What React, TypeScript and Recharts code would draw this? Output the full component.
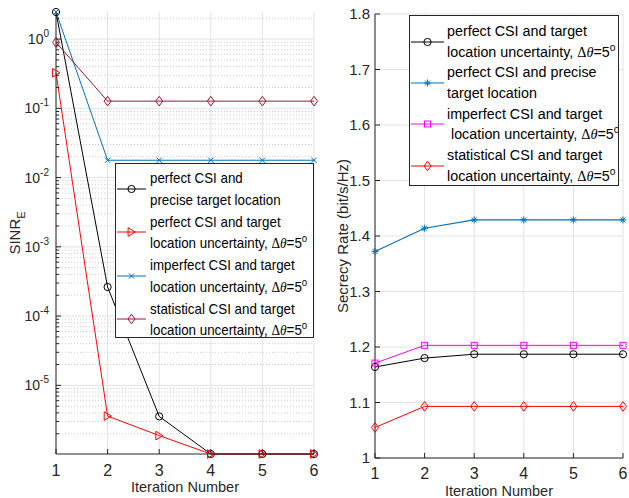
import React from "react";
import { LineChart, Line, XAxis, YAxis, CartesianGrid, Legend, Label } from "recharts";

const iterations = [1, 2, 3, 4, 5, 6];

// SINR at the eavesdropper (log axis)
const sinrPerfectPrecise = [2.46, 2.63e-4, 3.56e-6, 1.02e-6, 1.02e-6, 1.02e-6];
const sinrPerfectUncertain = [0.326, 3.6e-6, 1.88e-6, 1.02e-6, 1.02e-6, 1.02e-6];
const sinrImperfect = [2.46, 0.0178, 0.0178, 0.0178, 0.0178, 0.0178];
const sinrStatistical = [0.896, 0.127, 0.127, 0.127, 0.127, 0.127];

// secrecy rate, bit/s/Hz
const rateUncertain = [1.164, 1.18, 1.187, 1.187, 1.187, 1.187];
const ratePrecise = [1.372, 1.414, 1.429, 1.429, 1.429, 1.429];
const rateImperfect = [1.171, 1.203, 1.203, 1.203, 1.203, 1.203];
const rateStatistical = [1.055, 1.093, 1.093, 1.093, 1.093, 1.093];

const sinrDomain = [1.02e-6, 2.46];
const sinrDecades = [1e-5, 1e-4, 1e-3, 1e-2, 1e-1, 1];
const rateDomain = [1, 1.8];
const rateTicks = [1, 1.1, 1.2, 1.3, 1.4, 1.5, 1.6, 1.7, 1.8];

// 2..9 x 10^e minor ticks of the log axis
const sinrMinor: number[] = [];
for (let e = -6; e <= 0; e++) {
  for (let k = 2; k <= 9; k++) {
    const v = k * Math.pow(10, e);
    if (v > sinrDomain[0] && v < sinrDomain[1]) sinrMinor.push(v);
  }
}
const sinrTicks = [...sinrMinor, ...sinrDecades].sort((a, b) => a - b);

const sinrRows = iterations.map((it, i) => ({
  it,
  pp: sinrPerfectPrecise[i],
  pu: sinrPerfectUncertain[i],
  im: sinrImperfect[i],
  st: sinrStatistical[i],
}));

const rateRows = iterations.map((it, i) => ({
  it,
  pu: rateUncertain[i],
  pp: ratePrecise[i],
  im: rateImperfect[i],
  st: rateStatistical[i],
}));

const AXIS = "#262626";
const GRID = "#e3e3e3";
const GRID_MINOR = "#cfcfcf";
const FONT = 'Arial, "Liberation Sans", Helvetica, sans-serif';
const SERIF = '"Liberation Serif", "Times New Roman", serif';

const BLACK = "#000000";
const RED = "#ff0000";
const BLUE = "#0072bd";
const WINE = "#a2142f";
const MAGENTA = "#ff00ff";

const sinrLegend = [
  { lines: ["perfect CSI and", "precise target location"], color: BLACK, shape: "circle" },
  { lines: ["perfect CSI and target", "location uncertainty, {d}"], color: RED, shape: "triangle" },
  { lines: ["imperfect CSI and target", "location uncertainty, {d}"], color: BLUE, shape: "cross" },
  { lines: ["statistical CSI and target", "location uncertainty, {d}"], color: WINE, shape: "diamond" },
];

const rateLegend = [
  { lines: ["perfect CSI and target", "location uncertainty, {d}"], color: BLACK, shape: "circle" },
  { lines: ["perfect CSI and precise", "target location"], color: BLUE, shape: "asterisk" },
  { lines: ["imperfect CSI and target", " location uncertainty, {d}"], color: MAGENTA, shape: "square" },
  { lines: ["statistical CSI and target", "location uncertainty, {d}"], color: RED, shape: "diamond" },
];

function Marker({ shape, cx, cy, color }: any) {
  if (cx == null || cy == null) return <g />;
  const s = { fill: "none", stroke: color, strokeWidth: 1 };
  switch (shape) {
    case "circle":
      return <circle cx={cx} cy={cy} r={3.6} {...s} />;
    case "triangle":
      return <polygon points={`${cx - 3.4},${cy - 4.3} ${cx + 3.8},${cy} ${cx - 3.4},${cy + 4.3}`} {...s} />;
    case "diamond":
      return <polygon points={`${cx},${cy - 4.8} ${cx + 3.5},${cy} ${cx},${cy + 4.8} ${cx - 3.5},${cy}`} {...s} />;
    case "square":
      return <rect x={cx - 3} y={cy - 3} width={6} height={6} {...s} />;
    case "cross":
      return <path d={`M${cx - 2.6},${cy - 2.6}L${cx + 2.6},${cy + 2.6}M${cx - 2.6},${cy + 2.6}L${cx + 2.6},${cy - 2.6}`} {...s} />;
    case "asterisk":
      return (
        <path
          d={`M${cx - 3.5},${cy}L${cx + 3.5},${cy}M${cx},${cy - 3.5}L${cx},${cy + 3.5}M${cx - 2.5},${cy - 2.5}L${cx + 2.5},${cy + 2.5}M${cx - 2.5},${cy + 2.5}L${cx + 2.5},${cy - 2.5}`}
          {...s}
        />
      );
    default:
      return <g />;
  }
}

const dotFn = (shape: string, color: string) => (p: any) =>
  <Marker key={`m-${p.index}`} shape={shape} cx={p.cx} cy={p.cy} color={color} />;

const Delta = () => (
  <span>
    <span style={{ fontFamily: SERIF }}>Δ</span>
    <span style={{ fontFamily: SERIF, fontStyle: "italic" }}>θ</span>=5
    <span style={{ fontSize: "0.72em", position: "relative", top: "-0.55em" }}>o</span>
  </span>
);

function renderLine(t: string) {
  const parts = t.split("{d}");
  return (
    <>
      {parts[0]}
      {parts.length > 1 && <Delta />}
      {parts[1]}
    </>
  );
}

// legend text is a little narrow, so squeeze it horizontally
function LegendBox({ items, lh, padTop, textLeft, sampleW, fontSize, squeeze }: any) {
  return (
    <div
      style={{
        boxSizing: "border-box",
        width: "100%",
        height: "100%",
        border: `1px solid ${AXIS}`,
        background: "#fff",
        fontFamily: FONT,
        fontSize,
        color: "#000",
        paddingTop: padTop,
        textAlign: "left",
        overflow: "hidden",
      }}
    >
      {items.map((it: any, i: number) => (
        <div key={i} style={{ position: "relative", height: lh * 2 }}>
          <svg width={sampleW} height={12} style={{ position: "absolute", left: 1, top: lh - 6 }}>
            <line x1={0} x2={sampleW} y1={6} y2={6} stroke={it.color} strokeWidth={1} />
            <Marker shape={it.shape} cx={sampleW / 2} cy={6} color={it.color} />
          </svg>
          {it.lines.map((t: string, j: number) => (
            <div key={j} style={{ marginLeft: textLeft, height: lh, lineHeight: `${lh}px`, whiteSpace: "pre" }}>
              <span style={{ display: "inline-block", transform: `scaleX(${squeeze})`, transformOrigin: "0 50%" }}>
                {renderLine(t)}
              </span>
            </div>
          ))}
        </div>
      ))}
    </div>
  );
}

// log axis ticks: labels 10^k on decades, short marks in between
function SinrTick({ x, y, payload }: any) {
  const v = payload.value;
  const major = sinrDecades.includes(v);
  const exp = Math.round(Math.log10(v));
  return (
    <g>
      <line x1={x} x2={x + (major ? 5 : 3)} y1={y} y2={y} stroke={AXIS} />
      {major && (
        <text x={x - 7} y={y} dy="0.36em" textAnchor="end" fill={AXIS} fontFamily={FONT} fontSize={14}>
          10
          <tspan dy={-7} fontSize={10}>
            {String(exp)}
          </tspan>
        </text>
      )}
    </g>
  );
}

function SinrTickRight({ x, y, payload }: any) {
  const major = sinrDecades.includes(payload.value);
  return <line x1={x} x2={x - (major ? 5 : 3)} y1={y} y2={y} stroke={AXIS} />;
}

function RateTick({ x, y, payload }: any) {
  return (
    <g>
      <line x1={x} x2={x + 5} y1={y} y2={y} stroke={AXIS} />
      <text x={x - 5} y={y} dy="0.36em" textAnchor="end" fill={AXIS} fontFamily={FONT} fontSize={15}>
        {String(payload.value)}
      </text>
    </g>
  );
}

function RateTickRight({ x, y }: any) {
  return <line x1={x} x2={x - 5} y1={y} y2={y} stroke={AXIS} />;
}

const bottomTick = (gap: number) => ({ x, y, payload }: any) => (
  <g>
    <line x1={x} x2={x} y1={y} y2={y - 5} stroke={AXIS} />
    <text x={x} y={y + gap} dy="0.71em" textAnchor="middle" fill={AXIS} fontFamily={FONT} fontSize={16}>
      {payload.value}
    </text>
  </g>
);

const TopTick = ({ x, y }: any) => <line x1={x} x2={x} y1={y} y2={y + 5} stroke={AXIS} />;

const xTitle = (drop: number) => (props: any) => {
  const vb = props.viewBox || {};
  return (
    <text x={vb.x + vb.width / 2} y={vb.y + drop} dy="0.36em" textAnchor="middle" fill={AXIS} fontFamily={FONT} fontSize={14.5}>
      Iteration Number
    </text>
  );
};

const SinrTitle = (props: any) => {
  const vb = props.viewBox || {};
  const cx = vb.x + 15;
  const cy = vb.y + vb.height / 2;
  return (
    <text transform={`rotate(-90, ${cx}, ${cy})`} x={cx} y={cy} dy="0.36em" textAnchor="middle" fill={AXIS} fontFamily={FONT} fontSize={15}>
      SINR
      <tspan dy={5} fontSize={11}>
        E
      </tspan>
    </text>
  );
};

const RateTitle = (props: any) => {
  const vb = props.viewBox || {};
  const cx = vb.x + 23;
  const cy = vb.y + vb.height / 2;
  return (
    <text transform={`rotate(-90, ${cx}, ${cy})`} x={cx} y={cy} dy="0.36em" textAnchor="middle" fill={AXIS} fontFamily={FONT} fontSize={15}>
      Secrecy Rate (bit/s/Hz)
    </text>
  );
};

export default function App() {
  return (
    <div style={{ position: "absolute", left: 0, top: 0, width: 629, height: 498, background: "#fff" }}>
      <div style={{ position: "absolute", left: 0, top: 0 }}>
        <LineChart width={320} height={498} data={sinrRows} margin={{ top: 12, right: 6, bottom: 0, left: 0 }}>
          <CartesianGrid stroke={GRID} horizontalValues={sinrDecades} />
          <CartesianGrid stroke={GRID_MINOR} strokeDasharray="1 2" vertical={false} horizontalValues={sinrMinor} />
          <XAxis
            dataKey="it"
            type="number"
            domain={[1, 6]}
            ticks={iterations}
            interval={0}
            height={44}
            tickSize={0}
            tickMargin={0}
            tickLine={false}
            axisLine={{ stroke: AXIS }}
            tick={bottomTick(11)}
          >
            <Label content={xTitle(33)} />
          </XAxis>
          <XAxis
            xAxisId="top"
            orientation="top"
            type="number"
            domain={[1, 6]}
            ticks={iterations}
            interval={0}
            height={0}
            tickSize={0}
            tickMargin={0}
            tickLine={false}
            axisLine={{ stroke: AXIS }}
            tick={TopTick}
            allowDataOverflow
          />
          <YAxis
            type="number"
            scale="log"
            domain={sinrDomain}
            ticks={sinrTicks}
            interval={0}
            width={56}
            tickSize={0}
            tickMargin={0}
            tickLine={false}
            axisLine={{ stroke: AXIS }}
            tick={SinrTick}
          >
            <Label content={SinrTitle} />
          </YAxis>
          <YAxis
            yAxisId="r"
            orientation="right"
            type="number"
            scale="log"
            domain={sinrDomain}
            ticks={sinrTicks}
            interval={0}
            width={0}
            tickSize={0}
            tickMargin={0}
            tickLine={false}
            axisLine={{ stroke: AXIS }}
            tick={SinrTickRight}
            allowDataOverflow
          />
          <Line dataKey="pp" stroke={BLACK} strokeWidth={1} dot={dotFn("circle", BLACK)} activeDot={false} isAnimationActive={false} />
          <Line dataKey="pu" stroke={RED} strokeWidth={1} dot={dotFn("triangle", RED)} activeDot={false} isAnimationActive={false} />
          <Line dataKey="im" stroke={BLUE} strokeWidth={1} dot={dotFn("cross", BLUE)} activeDot={false} isAnimationActive={false} />
          <Line dataKey="st" stroke={WINE} strokeWidth={1} dot={dotFn("diamond", WINE)} activeDot={false} isAnimationActive={false} />
          <Legend
            layout="horizontal"
            verticalAlign="middle"
            align="center"
            wrapperStyle={{ left: 115, top: 163, width: 199, height: 175 }}
            content={() => (
              <LegendBox items={sinrLegend} lh={21.75} padTop={3} textLeft={34} sampleW={29} fontSize={15} squeeze={0.89} />
            )}
          />
        </LineChart>
      </div>

      <div style={{ position: "absolute", left: 320, top: 0 }}>
        <LineChart width={309} height={498} data={rateRows} margin={{ top: 14, right: 6, bottom: 0, left: 0 }}>
          <CartesianGrid stroke={GRID} />
          <XAxis
            dataKey="it"
            type="number"
            domain={[1, 6]}
            ticks={iterations}
            interval={0}
            height={40}
            tickSize={0}
            tickMargin={0}
            tickLine={false}
            axisLine={{ stroke: AXIS }}
            tick={bottomTick(10)}
          >
            <Label content={xTitle(33)} />
          </XAxis>
          <XAxis
            xAxisId="top"
            orientation="top"
            type="number"
            domain={[1, 6]}
            ticks={iterations}
            interval={0}
            height={0}
            tickSize={0}
            tickMargin={0}
            tickLine={false}
            axisLine={{ stroke: AXIS }}
            tick={TopTick}
            allowDataOverflow
          />
          <YAxis
            type="number"
            domain={rateDomain}
            ticks={rateTicks}
            interval={0}
            width={55}
            tickSize={0}
            tickMargin={0}
            tickLine={false}
            axisLine={{ stroke: AXIS }}
            tick={RateTick}
          >
            <Label content={RateTitle} />
          </YAxis>
          <YAxis
            yAxisId="r"
            orientation="right"
            type="number"
            domain={rateDomain}
            ticks={rateTicks}
            interval={0}
            width={0}
            tickSize={0}
            tickMargin={0}
            tickLine={false}
            axisLine={{ stroke: AXIS }}
            tick={RateTickRight}
            allowDataOverflow
          />
          <Line dataKey="pu" stroke={BLACK} strokeWidth={1} dot={dotFn("circle", BLACK)} activeDot={false} isAnimationActive={false} />
          <Line dataKey="pp" stroke={BLUE} strokeWidth={1.2} dot={dotFn("asterisk", BLUE)} activeDot={false} isAnimationActive={false} />
          <Line dataKey="im" stroke={MAGENTA} strokeWidth={1} dot={dotFn("square", MAGENTA)} activeDot={false} isAnimationActive={false} />
          <Line dataKey="st" stroke={RED} strokeWidth={1} dot={dotFn("diamond", RED)} activeDot={false} isAnimationActive={false} />
          <Legend
            layout="horizontal"
            verticalAlign="middle"
            align="center"
            wrapperStyle={{ left: 89, top: 15, width: 210, height: 171 }}
            content={() => (
              <LegendBox items={rateLegend} lh={20.7} padTop={5} textLeft={37} sampleW={33} fontSize={15.4} squeeze={0.93} />
            )}
          />
        </LineChart>
      </div>
    </div>
  );
}
